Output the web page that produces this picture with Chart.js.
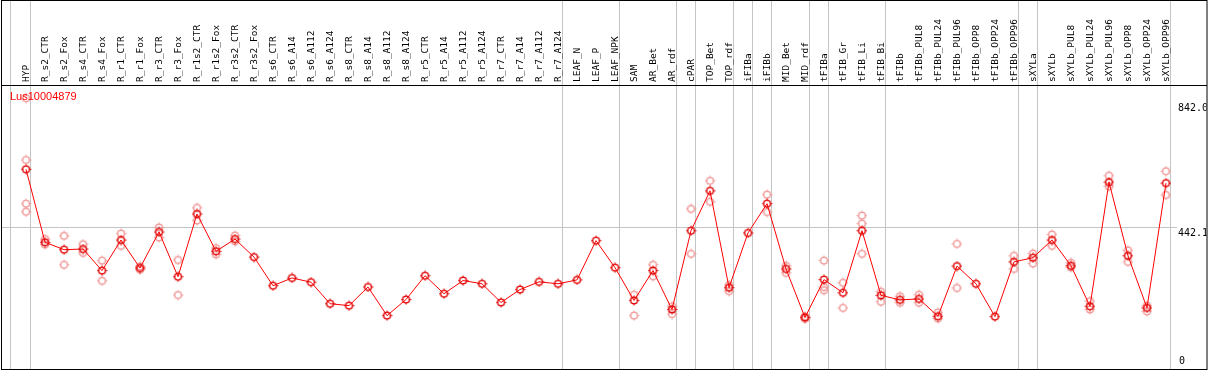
<!DOCTYPE html>
<html>
<head>
<meta charset="utf-8">
<script src="https://cdn.jsdelivr.net/npm/chart.js@4/dist/chart.umd.min.js"></script>
<style>
  body { margin: 0; background: #fff; }
  canvas { display: block; }
</style>
</head>
<body>
<canvas id="expr_chart" width="1209" height="370"></canvas>
<script>
const gene = "Lus10004879";

const samples = [
    "HYP", "R_s2_CTR", "R_s2_Fox", "R_s4_CTR", "R_s4_Fox", "R_r1_CTR", "R_r1_Fox",
    "R_r3_CTR", "R_r3_Fox", "R_r1s2_CTR", "R_r1s2_Fox", "R_r3s2_CTR", "R_r3s2_Fox",
    "R_s6_CTR", "R_s6_A14", "R_s6_A112", "R_s6_A124", "R_s8_CTR", "R_s8_A14",
    "R_s8_A112", "R_s8_A124", "R_r5_CTR", "R_r5_A14", "R_r5_A112", "R_r5_A124",
    "R_r7_CTR", "R_r7_A14", "R_r7_A112", "R_r7_A124", "LEAF_N", "LEAF_P", "LEAF_NPK",
    "SAM", "AR_Bet", "AR_rdf", "cPAR", "TOP_Bet", "TOP_rdf", "iFIBa", "iFIBb",
    "MID_Bet", "MID_rdf", "tFIBa", "tFIB_Gr", "tFIB_Li", "tFIB_Bi", "tFIBb",
    "tFIBb_PUL8", "tFIBb_PUL24", "tFIBb_PUL96", "tFIBb_OPP8", "tFIBb_OPP24",
    "tFIBb_OPP96", "sXYLa", "sXYLb", "sXYLb_PUL8", "sXYLb_PUL24", "sXYLb_PUL96",
    "sXYLb_OPP8", "sXYLb_OPP24", "sXYLb_OPP96"
];

// mean expression per sample
const means = [
    621, 394, 371, 373, 306, 401, 314, 426, 287, 482, 366, 404, 348,
    259, 283, 270, 203, 197, 255, 166, 216, 290, 234, 275, 265,
    207, 247, 271, 265, 277, 399, 315,
    213, 306, 185, 430, 554, 253, 423, 514,
    311, 160, 278, 237, 430, 229, 215,
    218, 164, 320, 265, 163,
    333, 346, 401, 321, 195, 581,
    352, 190, 578
];

// single replicates per sample
const replicates = [
    [842, 650, 514, 489], [404, 387], [414, 324], [388, 361], [337, 274], [421, 383], [319, 309],
    [440, 409], [339, 230], [501, 462], [376, 356], [415, 397], [],
    [], [], [], [], [], [],
    [], [], [], [], [], [],
    [], [], [], [], [], [], [],
    [231, 166], [324, 288], [195, 171], [498, 358], [585, 520], [261, 242], [], [542, 488],
    [321, 299], [164, 156], [337, 255, 245], [268, 190], [477, 452, 358], [240, 209], [226, 206],
    [231, 206], [176, 157], [389, 252], [], [],
    [352, 311], [359, 328], [418, 383], [330, 316], [211, 185], [601, 568],
    [369, 333], [197, 179], [615, 541]
];

const y_ticks = [0, 442.1, 842];
// a grey separator is drawn right after these samples
const group_ends = [0, 28, 31, 34, 35, 37, 38, 39, 41, 42, 45, 52, 53, 60];

function marker(color) {
    const c = document.createElement("canvas");
    c.width = 11;
    c.height = 11;
    const g = c.getContext("2d");
    g.strokeStyle = color;
    g.lineWidth = 1.4;
    g.beginPath();
    g.arc(5.5, 5.5, 3.4, 0, Math.PI * 2);
    g.stroke();
    g.lineWidth = 1;
    g.beginPath();
    g.moveTo(5.5, 0.5); g.lineTo(5.5, 2.5);
    g.moveTo(5.5, 8.5); g.lineTo(5.5, 10.5);
    g.moveTo(0.5, 5.5); g.lineTo(2.5, 5.5);
    g.moveTo(8.5, 5.5); g.lineTo(10.5, 5.5);
    g.stroke();
    return c;
}

let rep_points = [];
replicates.forEach((r, i) => r.forEach((v) => rep_points.push({ x: i, y: v })));

const framePlugin = {
    id: "frame",
    beforeDatasetsDraw(chart) {
        const { ctx, chartArea, scales } = chart;
        ctx.save();
        ctx.strokeStyle = "#c4c4c4";
        ctx.lineWidth = 1;
        let seps = [-0.84].concat(group_ends.map((i) => i + 0.23));
        seps.forEach((s) => {
            const x = Math.round(scales.x.getPixelForValue(s)) + 0.5;
            ctx.beginPath();
            ctx.moveTo(x, 0);
            ctx.lineTo(x, chartArea.bottom);
            ctx.stroke();
        });
        const y = Math.round(scales.y.getPixelForValue(y_ticks[1])) + 0.5;
        ctx.beginPath();
        ctx.moveTo(chartArea.left, y);
        ctx.lineTo(1177, y);
        ctx.stroke();
        ctx.restore();
    },
    afterDraw(chart) {
        const { ctx, chartArea, scales } = chart;
        ctx.save();
        ctx.strokeStyle = "#000";
        ctx.lineWidth = 1;
        ctx.strokeRect(1.5, 0.5, chartArea.right - 1.5, chartArea.bottom);
        ctx.beginPath();
        ctx.moveTo(1, chartArea.top + 0.5);
        ctx.lineTo(chartArea.right, chartArea.top + 0.5);
        ctx.stroke();

        // sample names, rotated, in the header band
        ctx.fillStyle = "#000";
        ctx.font = "9.5px 'DejaVu Sans Mono'";
        ctx.textAlign = "left";
        ctx.textBaseline = "middle";
        samples.forEach((name, i) => {
            ctx.save();
            ctx.translate(scales.x.getPixelForValue(i) + 0.5, chartArea.top - 3);
            ctx.rotate(-Math.PI / 2);
            ctx.fillText(name, 0, 0);
            ctx.restore();
        });

        ctx.beginPath();
        ctx.rect(chartArea.left, chartArea.top, chartArea.right - chartArea.left - 0.5, chartArea.bottom - chartArea.top);
        ctx.clip();
        ctx.font = "10px 'DejaVu Sans Mono'";
        ctx.textBaseline = "top";
        ctx.fillText(y_ticks[2].toFixed(1), 1178, scales.y.getPixelForValue(y_ticks[2]) + 5);
        ctx.fillText(y_ticks[1].toFixed(1), 1178, scales.y.getPixelForValue(y_ticks[1]) + 2);
        ctx.textBaseline = "bottom";
        ctx.fillText(String(y_ticks[0]), 1179, scales.y.getPixelForValue(y_ticks[0]) - 3);

        ctx.fillStyle = "#ff0000";
        ctx.font = "11px 'Liberation Sans'";
        ctx.textBaseline = "middle";
        ctx.fillText(gene, 10, 97);
        ctx.restore();
    },
};

const expr_config = {
    type: "line",
    data: {
        datasets: [
            {
                data: means.map((v, i) => ({ x: i, y: v })),
                borderColor: "#ff0000",
                borderWidth: 1,
                pointStyle: marker("#e00000"),
                pointRadius: 5,
                tension: 0,
                order: 0,
            },
            {
                data: rep_points,
                showLine: false,
                pointStyle: marker("#f09898"),
                pointRadius: 5,
                order: 1,
            },
        ],
    },
    options: {
        responsive: false,
        animation: false,
        devicePixelRatio: 1,
        layout: { autoPadding: false, padding: { left: 1, right: 2, top: 85, bottom: 1 } },
        plugins: { legend: { display: false }, tooltip: { enabled: false } },
        scales: {
            x: { type: "linear", display: false, min: -1.316, max: 62.158 },
            y: { display: false, min: 0, max: 883 },
        },
    },
    plugins: [framePlugin],
};

const expr_chart = new Chart(document.getElementById("expr_chart"), expr_config);
</script>
</body>
</html>
